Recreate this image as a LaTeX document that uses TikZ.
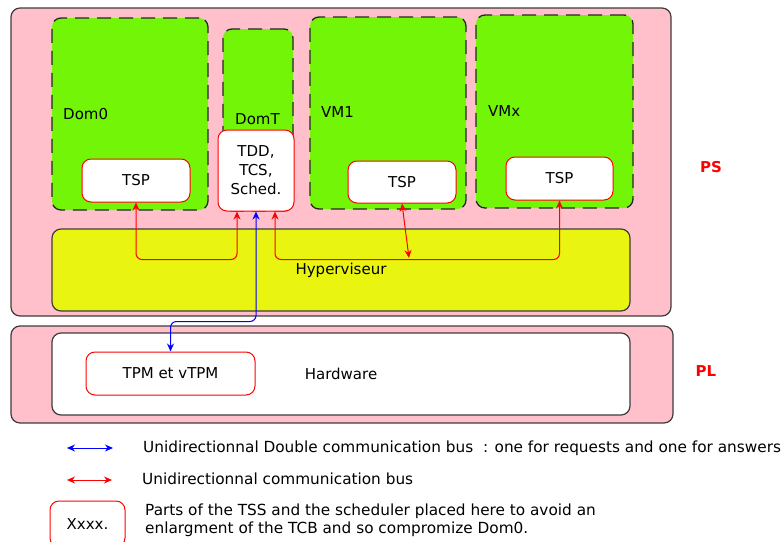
\documentclass[tikz,border=0pt]{standalone}
\usepackage{fontspec}
\setmainfont{DejaVu Sans}
\usetikzlibrary{arrows.meta}

\definecolor{vmgreen}{RGB}{115,245,8}
\definecolor{hypyellow}{RGB}{233,245,16}
\definecolor{framegray}{RGB}{60,60,60}
\definecolor{zonepink}{RGB}{255,192,203}

\tikzset{
  zone/.style={draw=framegray, line width=1.2pt, fill=zonepink, rounded corners=9pt, inner sep=0pt},
  vmbox/.style={draw=black!85, line width=1.3pt, dash pattern=on 14pt off 8pt, fill=vmgreen, rounded corners=9pt, inner sep=0pt},
  layer/.style={draw=framegray, line width=1.2pt, rounded corners=9pt, inner sep=0pt},
  part/.style={draw=red, line width=1pt, fill=white, rounded corners=9pt, inner sep=0pt, align=center},
  lbl/.style={inner sep=0pt, anchor=west},
  redbus/.style={draw=red, line width=1pt, {Stealth[length=8pt,width=7pt]}-{Stealth[length=8pt,width=7pt]}, rounded corners=6pt},
  bluebus/.style={draw=blue, line width=1pt, {Stealth[length=8pt,width=7pt]}-{Stealth[length=8pt,width=7pt]}, rounded corners=6pt}
}

\begin{document}
\begin{tikzpicture}[x=1pt, y=-1pt, font=\fontsize{15}{19}\selectfont]

      \useasboundingbox (0,0) rectangle (781,541);

      % PS and PL
      \node[zone, minimum width=660pt, minimum height=308pt] (ps) at (341,162) {};
      \node[zone, minimum width=662pt, minimum height=97pt]  (pl) at (342,374.5) {};
      \node[text=red, font=\fontsize{15}{19}\selectfont\bfseries] (pslbl) at (711,167) {PS};
      \node[text=red, font=\fontsize{15}{19}\selectfont\bfseries] (pllbl) at (706,371) {PL};

      % domains
      \begin{scope}[every node/.style={vmbox}]
        \node[minimum width=156pt, minimum height=192pt] (dom0) at (130,114)   {};
        \node[minimum width=70pt,  minimum height=182pt] (domt) at (258,120)   {};
        \node[minimum width=156pt, minimum height=192pt] (vm1)  at (388,113)   {};
        \node[minimum width=157pt, minimum height=193pt] (vmx)  at (554.5,111.5) {};
      \end{scope}

      \begin{scope}[every node/.style={lbl}]
        \node (dom0lbl) at (63,114) {Dom0};
        \node (domtlbl) at (235,119) {DomT};
        \node (vm1lbl)  at (321,112) {VM1};
        \node (vmxlbl)  at (488,111) {VMx};
      \end{scope}

      % layers
      \node[layer, fill=hypyellow, minimum width=578pt, minimum height=82pt] (hyp) at (341,270) {Hyperviseur};
      \node[layer, fill=white,     minimum width=578pt, minimum height=82pt] (hw)  at (341,374) {Hardware};

      % parts
      \begin{scope}[every node/.style={part}]
        \node[minimum width=108pt, minimum height=43pt] (tsp0) at (136,180.5)   {TSP};
        \node[minimum width=76pt,  minimum height=81pt] (tdd)  at (256,170.5)   {TDD,\\TCS,\\Sched.};
        \node[minimum width=108pt, minimum height=42pt] (tsp1) at (402,182)     {TSP};
        \node[minimum width=107pt, minimum height=43pt] (tspx) at (559.5,178.5) {TSP};
        \node[minimum width=169pt, minimum height=43pt] (tpm)  at (170.5,373.5) {TPM et vTPM};
        \node[minimum width=75pt,  minimum height=46pt] (xxxx) at (87.5,524)    {Xxxx.};
      \end{scope}

      % buses
      \coordinate (hyp1) at (409,258);
      \draw[redbus] (tsp0.south) -- ++(0,57) -| ([xshift=-19pt]tdd.south);
      \draw[redbus] ([xshift=19pt]tdd.south) -- ++(0,48) -| (tspx.south);
      \draw[redbus] (tsp1.south) -- (hyp1);
      \draw[bluebus] (tdd.south) -- ++(0,110) -| (tpm.north);

      % legend
      \coordinate (blue1) at (67,448);
      \coordinate (blue2) at (113,448);
      \coordinate (red1)  at (67,480);
      \coordinate (red2)  at (112,480);
      \draw[bluebus] (blue1) -- (blue2);
      \draw[redbus] (red1) -- (red2);

      \begin{scope}[every node/.style={lbl, font=\fontsize{15.3}{18}\selectfont}]
        \node (bluetxt) at (143,448) {Unidirectionnal Double communication bus\ \ : one for requests and one for answers};
        \node (redtxt)  at (142,479) {Unidirectionnal communication bus};
        \node[align=left] (xxxxtxt) at (145,520) {Parts of the TSS and the scheduler placed here to avoid an\\enlargment of the TCB and so compromize Dom0.};
      \end{scope}

    \end{tikzpicture}
\end{document}
